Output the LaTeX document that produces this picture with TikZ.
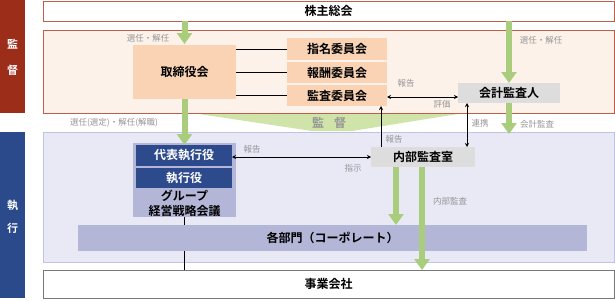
\documentclass[tikz,border=0pt]{standalone}
\usepackage{fontspec}
\setmainfont{Noto Sans CJK JP}[BoldFont={Noto Sans CJK JP Bold}]
\usetikzlibrary{arrows.meta}
\definecolor{redband}{RGB}{155,45,25}
\definecolor{blueband}{RGB}{42,74,140}
\definecolor{supfill}{RGB}{253,242,234}
\definecolor{supdraw}{RGB}{190,95,75}
\definecolor{exefill}{RGB}{232,233,245}
\definecolor{exedraw}{RGB}{192,195,226}
\definecolor{peach}{RGB}{249,211,180}
\definecolor{boxgray}{RGB}{220,221,220}
\definecolor{lav}{RGB}{180,182,216}
\definecolor{dkblue}{RGB}{45,75,140}
\definecolor{grn}{RGB}{170,205,125}
\definecolor{ltgrn}{RGB}{208,228,170}
\definecolor{lblgray}{RGB}{150,150,150}
\definecolor{jigyodraw}{RGB}{120,120,120}
\begin{document}
\begin{tikzpicture}[x=1pt,y=-1pt,
  bx/.style={inner sep=0pt, outer sep=0pt, font=\fontsize{12}{14}\selectfont},
  lbl/.style={inner sep=0pt, text=lblgray, font=\fontsize{8.5}{10}\selectfont},
  garrow/.style={draw=grn, line width=6pt, -{Triangle[width=15pt,length=11pt]}},
  barrow/.style={line width=0.9pt, {Stealth[length=4pt,width=4pt]}-{Stealth[length=4pt,width=4pt]}},
  barrowone/.style={line width=0.9pt, -{Stealth[length=4pt,width=4pt]}},
  bline/.style={line width=0.9pt}]
\useasboundingbox (0,0) rectangle (615,300);
% bands
\node[bx, fill=redband, minimum width=25pt, minimum height=113pt] (band1) at (12.5,56.5) {};
\node[bx, fill=blueband, minimum width=25pt, minimum height=166pt] (band2) at (12.5,215) {};
\node[bx, text=white, font=\fontsize{11}{13}\selectfont\bfseries] (b1a) at (12.5,44) {監};
\node[bx, text=white, font=\fontsize{11}{13}\selectfont\bfseries] (b1b) at (12.5,70) {督};
\node[bx, text=white, font=\fontsize{11}{13}\selectfont\bfseries] (b2a) at (12.5,205) {執};
\node[bx, text=white, font=\fontsize{11}{13}\selectfont\bfseries] (b2b) at (12.5,228) {行};
% regions
\node[bx, draw=supdraw, line width=0.8pt, fill=white, minimum width=571pt, minimum height=20pt] (kabu) at (328.5,11) {\bfseries 株主総会};
\node[bx, draw=supdraw, line width=0.8pt, fill=supfill, minimum width=571pt, minimum height=83pt] (sup) at (328.5,71.5) {};
\node[bx, draw=exedraw, line width=0.8pt, fill=exefill, minimum width=571pt, minimum height=130pt] (exe) at (328.5,197) {};
\node[bx, draw=jigyodraw, line width=0.8pt, fill=white, minimum width=571pt, minimum height=28pt] (jigyo) at (328.5,284) {\bfseries 事業会社};
% big supervision arrow
\fill[ltgrn] (199,114) -- (458,114) -- (352,131) -- (312,131) -- cycle;
\node[bx, text=lblgray, font=\fontsize{12}{14}\selectfont\bfseries] (kantoku) at (329,122.5) {監\hspace{10pt}督};
% boxes
\node[bx, fill=peach, minimum width=103pt, minimum height=54pt] (tori) at (184.5,72) {\bfseries 取締役会};
\node[bx, fill=peach, minimum width=100pt, minimum height=22pt] (c1) at (337,49) {\bfseries 指名委員会};
\node[bx, fill=peach, minimum width=100pt, minimum height=21pt] (c2) at (337,72.5) {\bfseries 報酬委員会};
\node[bx, fill=peach, minimum width=100pt, minimum height=21pt] (c3) at (337,95.5) {\bfseries 監査委員会};
\node[bx, fill=boxgray, minimum width=102pt, minimum height=20pt] (kaikei) at (509,93) {\bfseries 会計監査人};
\node[bx, fill=boxgray, minimum width=104pt, minimum height=20pt] (naibu) at (423,157) {\bfseries 内部監査室};
\node[bx, fill=lav, minimum width=103pt, minimum height=74pt] (group) at (184.5,180) {};
\node[bx, fill=dkblue, text=white, minimum width=96pt, minimum height=21pt] (daihyo) at (184,155.5) {\bfseries 代表執行役};
\node[bx, fill=dkblue, text=white, minimum width=96pt, minimum height=20pt] (shikko) at (184,178) {\bfseries 執行役};
\node[bx, align=center, font=\fontsize{12}{15}\selectfont] (grouplbl) at (184.5,203) {\bfseries グループ\\\bfseries 経営戦略会議};
\node[bx, fill=lav, minimum width=509pt, minimum height=26pt] (bumon) at (332.5,238) {\bfseries 各部門（コーポレート）};
% green arrows
\draw[garrow] (kabu.south -| tori.north) -- ([yshift=1pt]tori.north);
\draw[garrow] (kabu.south -| kaikei.north) -- (kaikei.north);
\draw[garrow] (kaikei.south) -- ([yshift=-2pt]kaikei.south |- exe.north);
\draw[garrow] (tori.south) -- ([yshift=-2pt]tori.south |- group.north);
\coordinate (ia1) at (396,167);
\coordinate (ia2) at (422,167);
\draw[garrow] (ia1) -- (ia1 |- bumon.north);
\draw[garrow] (ia2) -- (ia2 |- jigyo.north);
% black lines
\draw[bline] (tori.east |- c1.west) -- (c1.west);
\draw[bline] (tori.east |- c2.west) -- (c2.west);
\draw[bline] (tori.east |- c3.west) -- (c3.west);
\draw[bline] (group.south) -- (bumon.north -| group.south);
\draw[bline] (bumon.south -| group.south) -- (jigyo.north -| group.south);
\draw[barrow] ([yshift=-1.5pt]c3.east) -- ([yshift=-1.5pt]c3.east -| kaikei.west);
\draw[barrow] (daihyo.east |- naibu.west) -- (naibu.west);
\coordinate (ib) at ([xshift=10pt]naibu.north west);
\coordinate (rk) at ([xshift=-8pt]naibu.north east);
\draw[barrowone] (ib) -- (ib |- c3.south);
\draw[barrow] (rk |- kaikei.south) -- (rk);
% labels
\node[lbl] (l1) at (148,38) {選任・解任};
\node[lbl] (l2) at (541,40) {選任・解任};
\node[lbl] (l3) at (406,83) {報告};
\node[lbl] (l4) at (442,104) {評価};
\node[lbl] (l5) at (114,123) {選任(選定)・解任(解職)};
\node[lbl] (l6) at (480,123) {連携};
\node[lbl] (l7) at (537,124) {会計監査};
\node[lbl] (l8) at (394,139) {報告};
\node[lbl] (l9) at (252,149) {報告};
\node[lbl] (l10) at (353,168) {指示};
\node[lbl] (l11) at (450,201) {内部監査};
\end{tikzpicture}
\end{document}
